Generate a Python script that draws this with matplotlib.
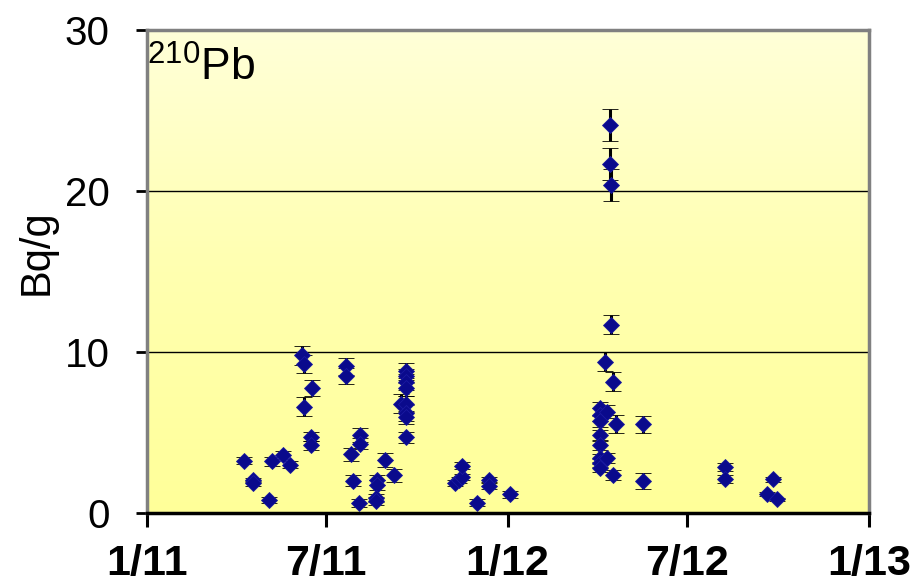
import numpy as np
import pandas as pd
import matplotlib
matplotlib.use("Agg")
import matplotlib.pyplot as plt
from matplotlib.colors import LinearSegmentedColormap

plt.rcParams['font.family'] = ['Liberation Sans', 'DejaVu Sans']
plt.rcParams['mathtext.fontset'] = 'custom'
plt.rcParams['mathtext.rm'] = 'Liberation Sans'
plt.rcParams['mathtext.it'] = 'Liberation Sans'

# ---- data ----
dates = [
    "2011-04-09", "2011-04-18", "2011-04-18", "2011-05-05", "2011-05-08", "2011-05-19", "2011-05-26",
    "2011-06-07", "2011-06-09", "2011-06-09", "2011-06-17", "2011-06-16", "2011-06-16",
    "2011-07-21", "2011-07-21", "2011-07-27", "2011-07-29", "2011-08-04", "2011-08-05", "2011-08-05",
    "2011-08-22", "2011-08-22", "2011-08-21", "2011-08-21", "2011-08-30", "2011-09-08",
    "2011-09-15", "2011-09-20", "2011-09-20", "2011-09-20", "2011-09-20", "2011-09-20",
    "2011-09-20", "2011-09-20", "2011-09-20",
    "2011-11-09", "2011-11-13", "2011-11-16", "2011-11-16", "2011-12-01", "2011-12-13", "2011-12-13",
    "2012-01-04",
    "2012-04-04", "2012-04-04", "2012-04-04", "2012-04-04", "2012-04-04", "2012-04-04", "2012-04-04",
    "2012-04-04", "2012-04-11", "2012-04-11", "2012-04-09", "2012-04-14", "2012-04-14", "2012-04-15",
    "2012-04-15", "2012-04-17", "2012-04-17", "2012-04-20", "2012-05-17", "2012-05-17",
    "2012-08-08", "2012-08-08", "2012-09-20", "2012-09-26", "2012-09-30",
]
values = [
    3.25, 2.05, 1.85, 0.8, 3.2, 3.6, 3.0,
    9.8, 9.25, 6.6, 7.75, 4.75, 4.2,
    9.1, 8.5, 3.65, 2.0, 0.6, 4.85, 4.3,
    2.05, 1.75, 0.95, 0.75, 3.3, 2.35,
    6.8, 8.85, 8.5, 8.15, 7.75, 6.75,
    6.2, 5.95, 4.7,
    1.85, 2.05, 2.25, 2.95, 0.65, 2.05, 1.7,
    1.15,
    6.5, 6.1, 5.7, 4.85, 4.2, 3.4, 3.1,
    2.8, 6.3, 3.4, 9.4, 24.1, 21.7, 20.35,
    11.7, 8.15, 2.35, 5.55, 5.5, 2.0,
    2.88, 2.09, 1.18, 2.09, 0.85,
]
errors = [
    0.2, 0.15, 0.15, 0.2, 0.3, 0.25, 0.2,
    0.6, 0.55, 0.6, 0.5, 0.3, 0.3,
    0.5, 0.5, 0.4, 0.35, 0.25, 0.45, 0.35,
    0.3, 0.3, 0.25, 0.25, 0.45, 0.4,
    0.6, 0.45, 0.45, 0.5, 0.5, 0.5,
    0.5, 0.4, 0.35,
    0.2, 0.2, 0.2, 0.2, 0.2, 0.2, 0.2,
    0.2,
    0.4, 0.4, 0.35, 0.3, 0.3, 0.25, 0.25,
    0.25, 0.4, 0.3, 0.6, 1.0, 1.0, 1.0,
    0.6, 0.6, 0.3, 0.55, 0.5, 0.5,
    0.25, 0.25, 0.1, 0.15, 0.1,
]
xtick_dates = ["2011-01-01", "2011-07-01", "2012-01-01", "2012-07-01", "2013-01-01"]
xtick_labels = ["1/11", "7/11", "1/12", "7/12", "1/13"]
yticks = [0, 10, 20, 30]

x = pd.to_datetime(dates)
xt = pd.to_datetime(xtick_dates)

fig = plt.figure(figsize=(9.24, 5.82), dpi=100)
ax = fig.add_axes([147/924, 1-513/582, (869-147)/924, (513-30)/582])

# gradient background
cmap = LinearSegmentedColormap.from_list("bg", ["#FFFF99", "#FFFFB0", "#FFFFD8"])
grad = np.linspace(0, 1, 256).reshape(-1, 1)
ax.imshow(grad, aspect='auto', cmap=cmap, origin='lower',
          extent=[0, 1, 0, 1], transform=ax.transAxes, zorder=0)

for yv in [10, 20]:
    ax.axhline(yv, color='black', lw=1.0, zorder=1)

ax.errorbar(x, values, yerr=errors, fmt='D', color='#0A0A8C', ms=8.2,
            mec='#1A1AA0', mew=0.6, ecolor='black', elinewidth=2.2,
            capsize=5.5, capthick=3.0, zorder=3)

ax.set_xlim(xt[0], xt[-1])
ax.set_ylim(0, 30)
ax.set_xticks(xt)
ax.set_xticklabels(xtick_labels, fontsize=31, fontweight='bold')
ax.set_yticks(yticks)
ax.set_yticklabels([str(v) for v in yticks], fontsize=29)
ax.tick_params(axis='x', direction='out', length=10, width=2.2, color='black', pad=12)
ax.tick_params(axis='y', direction='out', length=8, width=2.0, color='black', pad=19)

for s in ['top', 'right', 'left']:
    ax.spines[s].set_color('#808080')
    ax.spines[s].set_linewidth(2.5)
ax.spines['bottom'].set_color('black')
ax.spines['bottom'].set_linewidth(2.5)

ax.set_ylabel("Bq/g", fontsize=30)
ax.yaxis.set_label_coords(-0.125, 0.54)

ax.text(0.0, 0.965, r"$^{210}$Pb", transform=ax.transAxes, fontsize=32,
        ha='left', va='top', zorder=4)

fig.savefig("out.png", dpi=100)
